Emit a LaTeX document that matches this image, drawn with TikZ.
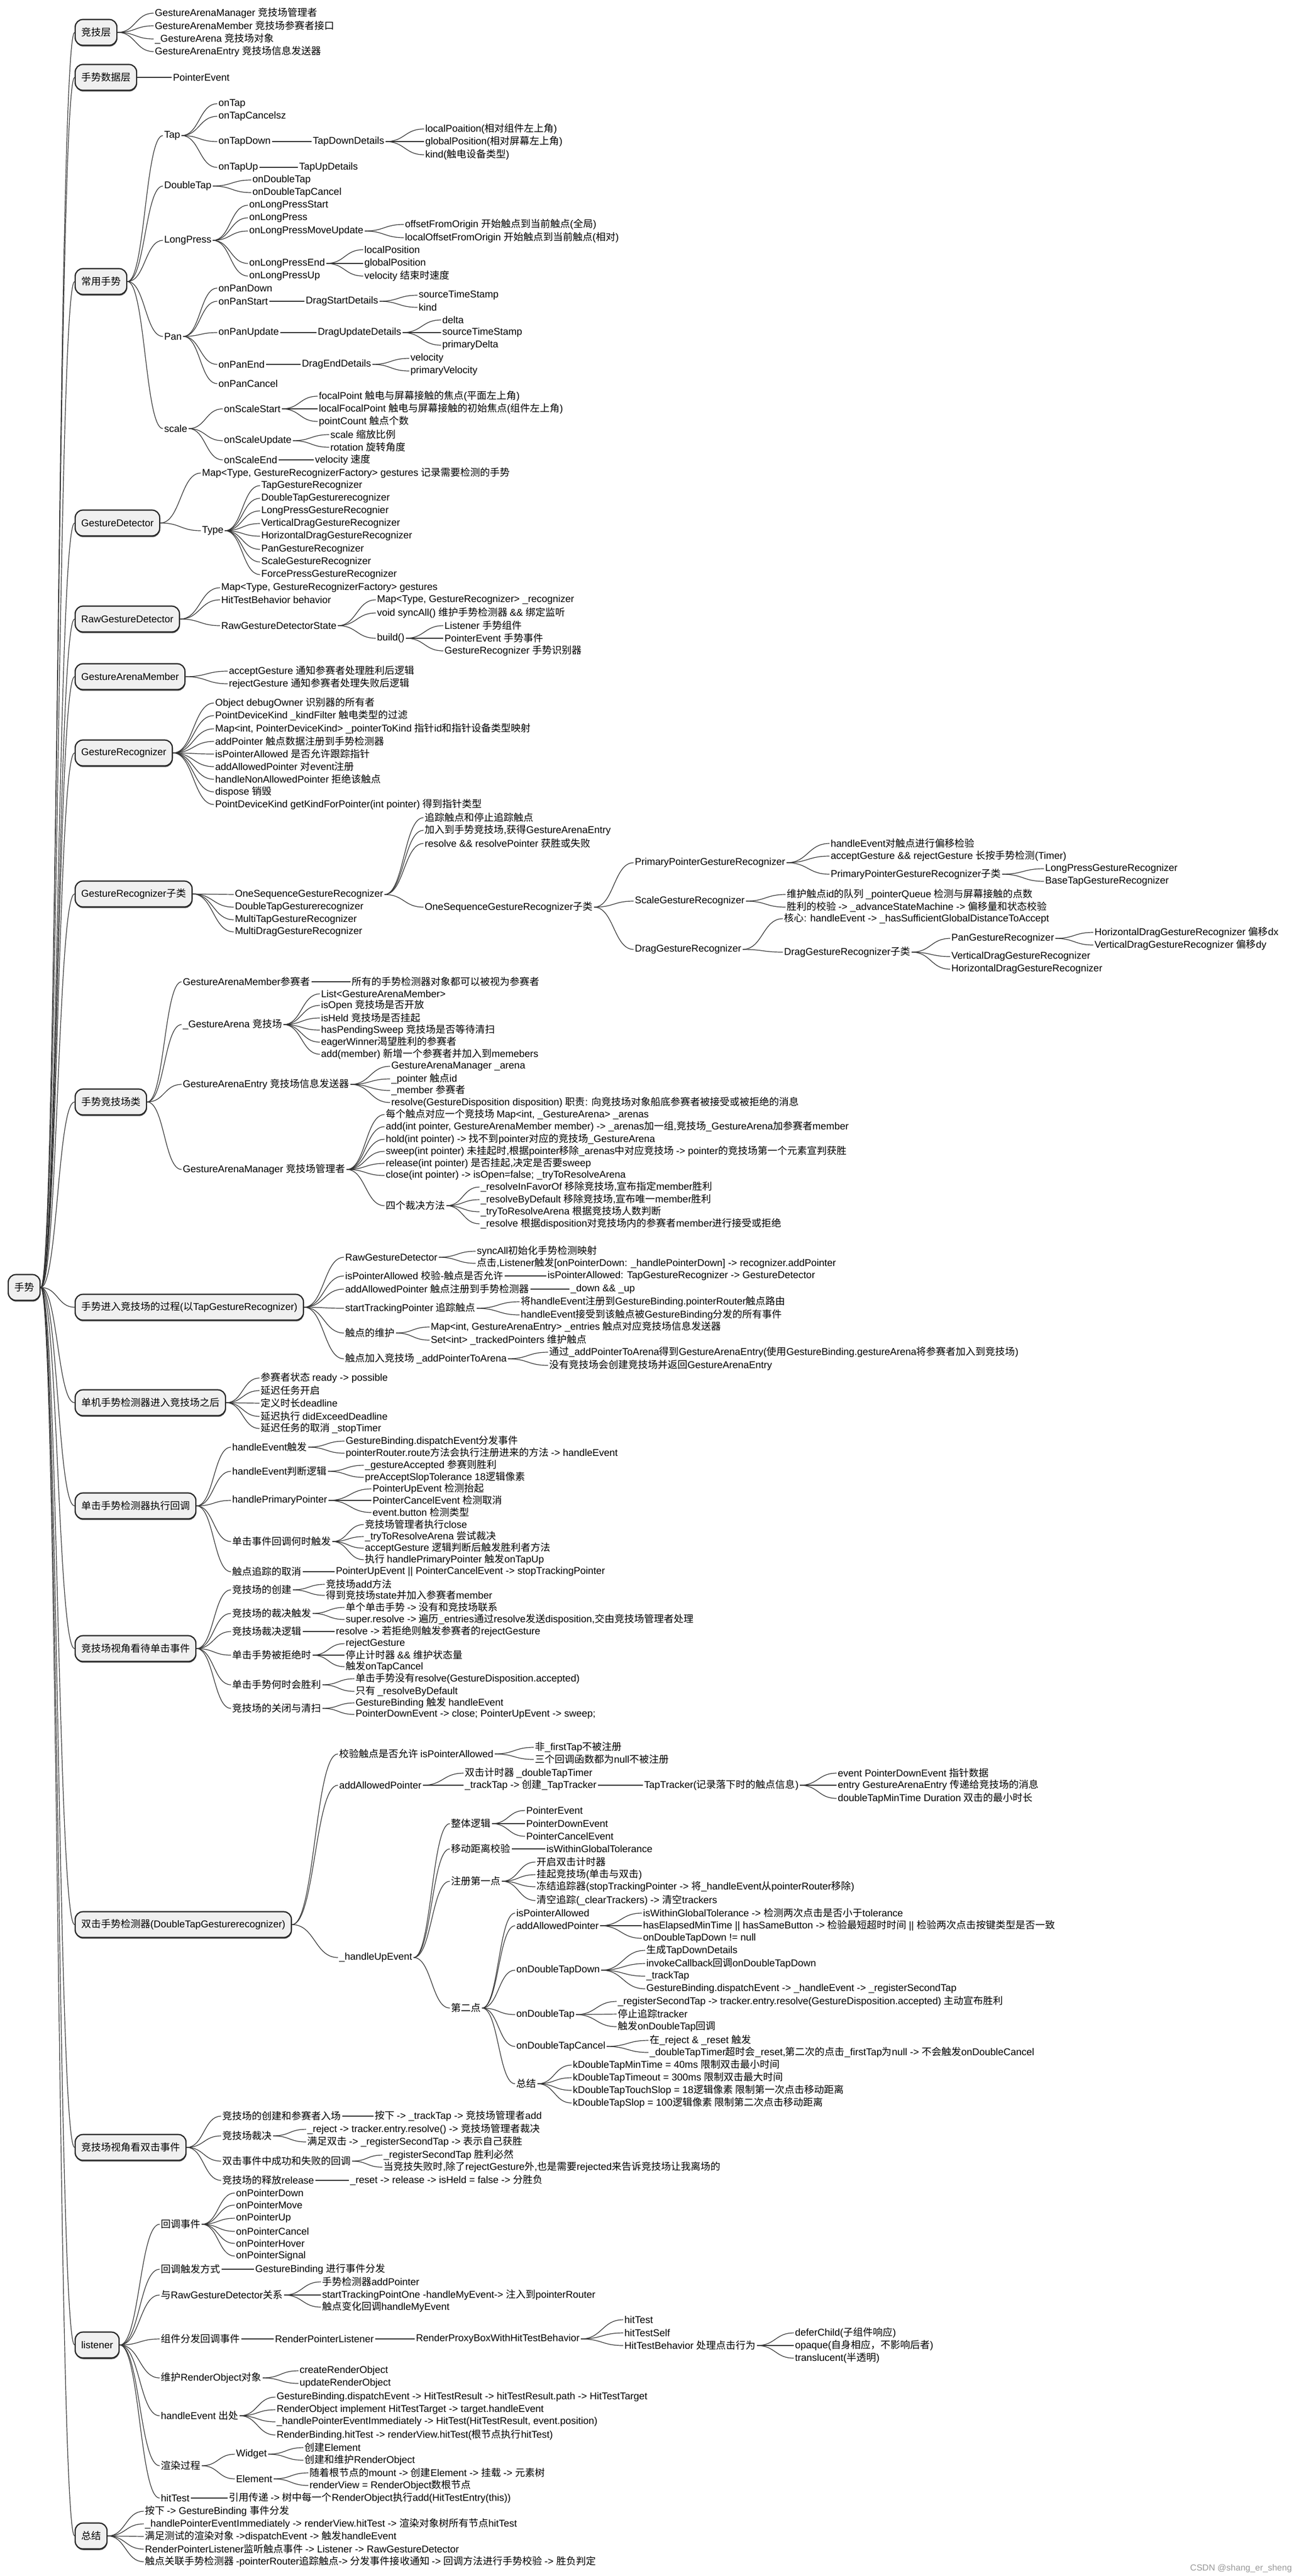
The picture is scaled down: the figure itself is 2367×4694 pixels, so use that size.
\documentclass[tikz,border=0pt]{standalone}
\usepackage{fontspec}
\setmainfont{Liberation Sans}
\newfontfamily\cjkf{Noto Sans CJK SC}
\newfontfamily\latf{Liberation Sans}
\usetikzlibrary{calc,shadows}
\newcount\cjkcnt
\cjkcnt="2E80
\loop\ifnum\cjkcnt<"A000 \XeTeXcharclass\cjkcnt=7 \advance\cjkcnt by 1 \repeat
\cjkcnt="FF00
\loop\ifnum\cjkcnt<"FFF0 \XeTeXcharclass\cjkcnt=7 \advance\cjkcnt by 1 \repeat
\XeTeXinterchartoks 0 7 = {\cjkf}
\XeTeXinterchartoks 4095 7 = {\cjkf}
\XeTeXinterchartoks 7 0 = {\latf}
\XeTeXinterchartoks 4095 0 = {\latf}
\XeTeXinterchartokenstate=1
\newcommand\fs{\fontsize{9pt}{11pt}\selectfont}
\tikzset{
  txt/.style={anchor=west, inner xsep=1pt, inner ysep=1pt, font=\cjkf\fs},
  box/.style={anchor=west, draw=black!85, line width=1.1pt, fill=black!6, rounded corners=7pt,
     minimum height=23.5pt, inner xsep=5.5pt, font=\cjkf\fs,
     drop shadow={shadow xshift=0.3pt, shadow yshift=-1.1pt, opacity=0.85, fill=black!80}},
  con/.style={draw=black!80, line width=0.6pt},
}
\newcommand\nd[4]{\node[txt] (#1) at (#2,#3) {#4};}
\newcommand\bx[4]{\node[box] (#1) at (#2,#3) {#4};}
\newcommand\E[2]{\foreach \cc in {#2}{\draw[con] let \p1=(#1.east), \p2=(\cc.west), \p3=($(\p1)!0.5!(\p2)$) in (\p1) .. controls (\x3,\y1) and (\x3,\y2) .. (\p2);}}
\begin{document}
\begin{tikzpicture}[x=0.5pt,y=-0.5pt]
\fill[white] (0,0) rectangle (2367,4694);
\useasboundingbox (0,0) rectangle (2367,4694);
% ---------- level 1
\bx{root}{14}{2346}{手势}
\bx{b1}{136}{59}{竞技层}
\bx{b2}{136}{141}{手势数据层}
\bx{b3}{136}{513}{常用手势}
\bx{b4}{136}{953}{GestureDetector}
\bx{b5}{136}{1128}{RawGestureDetector}
\bx{b6}{136}{1233}{GestureArenaMember}
\bx{b7}{136}{1372}{GestureRecognizer}
\bx{b8}{136}{1629}{GestureRecognizer子类}
\bx{b9}{136}{2008}{手势竞技场类}
\bx{b10}{136}{2382}{手势进入竞技场的过程(以TapGestureRecognizer)}
\bx{b11}{136}{2556}{单机手势检测器进入竞技场之后}
\bx{b12}{136}{2744}{单击手势检测器执行回调}
\bx{b13}{136}{3004}{竞技场视角看待单击事件}
\bx{b14}{136}{3507}{双击手势检测器(DoubleTapGesturerecognizer)}
\bx{b15}{136}{3913}{竞技场视角看双击事件}
\bx{b16}{136}{4273}{listener}
\bx{b17}{136}{4621}{总结}
\E{root}{b1,b2,b3,b4,b5,b6,b7,b8,b9,b10,b11,b12,b13,b14,b15,b16,b17}
% ---------- 竞技层
\nd{a1}{280}{24}{GestureArenaManager 竞技场管理者}
\nd{a2}{280}{47}{GestureArenaMember 竞技场参赛者接口}
\nd{a3}{280}{71}{\_GestureArena 竞技场对象}
\nd{a4}{280}{94}{GestureArenaEntry 竞技场信息发送器}
\E{b1}{a1,a2,a3,a4}
\nd{c1}{313}{141}{PointerEvent}
\E{b2}{c1}
% ---------- 常用手势
\nd{tap}{297}{247}{Tap}
\nd{dtap}{297}{339}{DoubleTap}
\nd{lp}{297}{438}{LongPress}
\nd{pan}{297}{613}{Pan}
\nd{scl}{297}{781}{scale}
\E{b3}{tap,dtap,lp,pan,scl}
\nd{t1}{396}{189}{onTap}
\nd{t2}{396}{212}{onTapCancelsz}
\nd{t3}{396}{258}{onTapDown}
\nd{t4}{396}{305}{onTapUp}
\E{tap}{t1,t2,t3,t4}
\nd{t3a}{568}{258}{TapDownDetails}
\E{t3}{t3a}
\nd{t3a1}{773}{235}{localPoaition(相对组件左上角)}
\nd{t3a2}{773}{258}{globalPosition(相对屏幕左上角)}
\nd{t3a3}{773}{282}{kind(触电设备类型)}
\E{t3a}{t3a1,t3a2,t3a3}
\nd{t4a}{543}{305}{TapUpDetails}
\E{t4}{t4a}
\nd{d1}{458}{328}{onDoubleTap}
\nd{d2}{458}{351}{onDoubleTapCancel}
\E{dtap}{d1,d2}
\nd{l1}{452}{374}{onLongPressStart}
\nd{l2}{452}{397}{onLongPress}
\nd{l3}{452}{421}{onLongPressMoveUpdate}
\nd{l4}{452}{480}{onLongPressEnd}
\nd{l5}{452}{503}{onLongPressUp}
\E{lp}{l1,l2,l3,l4,l5}
\nd{l3a}{736}{409}{offsetFromOrigin 开始触点到当前触点(全局)}
\nd{l3b}{736}{433}{localOffsetFromOrigin 开始触点到当前触点(相对)}
\E{l3}{l3a,l3b}
\nd{l4a}{662}{455}{localPosition}
\nd{l4b}{662}{480}{globalPosition}
\nd{l4c}{662}{503}{velocity 结束时速度}
\E{l4}{l4a,l4b,l4c}
\nd{p1}{396}{525}{onPanDown}
\nd{p2}{396}{549}{onPanStart}
\nd{p3}{396}{606}{onPanUpdate}
\nd{p4}{396}{664}{onPanEnd}
\nd{p5}{396}{699}{onPanCancel}
\E{pan}{p1,p2,p3,p4,p5}
\nd{p2a}{555}{549}{DragStartDetails}
\E{p2}{p2a}
\nd{p2b}{761}{538}{sourceTimeStamp}
\nd{p2c}{761}{560}{kind}
\E{p2a}{p2b,p2c}
\nd{p3a}{577}{606}{DragUpdateDetails}
\E{p3}{p3a}
\nd{p3b}{804}{583}{delta}
\nd{p3c}{804}{606}{sourceTimeStamp}
\nd{p3d}{804}{629}{primaryDelta}
\E{p3a}{p3b,p3c,p3d}
\nd{p4a}{548}{664}{DragEndDetails}
\E{p4}{p4a}
\nd{p4b}{746}{653}{velocity}
\nd{p4c}{746}{676}{primaryVelocity}
\E{p4a}{p4b,p4c}
\nd{s1}{406}{745}{onScaleStart}
\nd{s2}{406}{803}{onScaleUpdate}
\nd{s3}{406}{838}{onScaleEnd}
\E{scl}{s1,s2,s3}
\nd{s1a}{579}{722}{focalPoint 触电与屏幕接触的焦点(平面左上角)}
\nd{s1b}{579}{745}{localFocalPoint 触电与屏幕接触的初始焦点(组件左上角)}
\nd{s1c}{579}{768}{pointCount 触点个数}
\E{s1}{s1a,s1b,s1c}
\nd{s2a}{600}{792}{scale 缩放比例}
\nd{s2b}{600}{815}{rotation 旋转角度}
\E{s2}{s2a,s2b}
\nd{s3a}{572}{838}{velocity 速度}
\E{s3}{s3a}
% ---------- GestureDetector
\nd{g1}{366}{862}{Map<Type, GestureRecognizerFactory> gestures 记录需要检测的手势}
\nd{g2}{366}{967}{Type}
\E{b4}{g1,g2}
\nd{g2a}{474}{885}{TapGestureRecognizer}
\nd{g2b}{474}{908}{DoubleTapGesturerecognizer}
\nd{g2c}{474}{931}{LongPressGestureRecognier}
\nd{g2d}{474}{954}{VerticalDragGestureRecognizer}
\nd{g2e}{474}{977}{HorizontalDragGestureRecognizer}
\nd{g2f}{474}{1001}{PanGestureRecognizer}
\nd{g2g}{474}{1024}{ScaleGestureRecognizer}
\nd{g2h}{474}{1047}{ForcePressGestureRecognizer}
\E{g2}{g2a,g2b,g2c,g2d,g2e,g2f,g2g,g2h}
% ---------- RawGestureDetector
\nd{r1}{401}{1071}{Map<Type, GestureRecognizerFactory> gestures}
\nd{r2}{401}{1093}{HitTestBehavior behavior}
\nd{r3}{401}{1140}{RawGestureDetectorState}
\E{b5}{r1,r2,r3}
\nd{r3a}{685}{1093}{Map<Type, GestureRecognizer> \_recognizer}
\nd{r3b}{685}{1117}{void syncAll() 维护手势检测器 \&\& 绑定监听}
\nd{r3c}{685}{1163}{build()}
\E{r3}{r3a,r3b,r3c}
\nd{r3c1}{808}{1140}{Listener 手势组件}
\nd{r3c2}{808}{1163}{PointerEvent 手势事件}
\nd{r3c3}{808}{1186}{GestureRecognizer 手势识别器}
\E{r3c}{r3c1,r3c2,r3c3}
% ---------- GestureArenaMember
\nd{m1}{415}{1223}{acceptGesture 通知参赛者处理胜利后逻辑}
\nd{m2}{415}{1246}{rejectGesture 通知参赛者处理失败后逻辑}
\E{b6}{m1,m2}
% ---------- GestureRecognizer
\nd{gr1}{390}{1281}{Object debugOwner 识别器的所有者}
\nd{gr2}{390}{1304}{PointDeviceKind \_kindFilter 触电类型的过滤}
\nd{gr3}{390}{1328}{Map<int, PointerDeviceKind> \_pointerToKind 指针id和指针设备类型映射}
\nd{gr4}{390}{1351}{addPointer 触点数据注册到手势检测器}
\nd{gr5}{390}{1374}{isPointerAllowed 是否允许跟踪指针}
\nd{gr6}{390}{1397}{addAllowedPointer 对event注册}
\nd{gr7}{390}{1420}{handleNonAllowedPointer 拒绝该触点}
\nd{gr8}{390}{1443}{dispose 销毁}
\nd{gr9}{390}{1466}{PointDeviceKind getKindForPointer(int pointer) 得到指针类型}
\E{b7}{gr1,gr2,gr3,gr4,gr5,gr6,gr7,gr8,gr9}
% ---------- GestureRecognizer子类
\nd{os}{426}{1630}{OneSequenceGestureRecognizer}
\nd{sc2}{426}{1653}{DoubleTapGesturerecognizer}
\nd{sc3}{426}{1676}{MultiTapGestureRecognizer}
\nd{sc4}{426}{1698}{MultiDragGestureRecognizer}
\E{b8}{os,sc2,sc3,sc4}
\nd{os1}{772}{1490}{追踪触点和停止追踪触点}
\nd{os2}{772}{1513}{加入到手势竞技场,获得GestureArenaEntry}
\nd{os3}{772}{1537}{resolve \&\& resolvePointer 获胜或失败}
\nd{oss}{772}{1653}{OneSequenceGestureRecognizer子类}
\E{os}{os1,os2,os3,oss}
\nd{pp}{1155}{1572}{PrimaryPointerGestureRecognizer}
\nd{sg}{1155}{1642}{ScaleGestureRecognizer}
\nd{dg}{1155}{1730}{DragGestureRecognizer}
\E{oss}{pp,sg,dg}
\nd{pp1}{1512}{1537}{handleEvent对触点进行偏移检验}
\nd{pp2}{1512}{1560}{acceptGesture \&\& rejectGesture 长按手势检测(Timer)}
\nd{pps}{1512}{1593}{PrimaryPointerGestureRecognizer子类}
\E{pp}{pp1,pp2,pps}
\nd{pps1}{1903}{1583}{LongPressGestureRecognizer}
\nd{pps2}{1903}{1606}{BaseTapGestureRecognizer}
\E{pps}{pps1,pps2}
\nd{sg1}{1432}{1630}{维护触点id的队列 \_pointerQueue 检测与屏幕接触的点数}
\nd{sg2}{1432}{1653}{胜利的校验 -> \_advanceStateMachine -> 偏移量和状态校验}
\E{sg}{sg1,sg2}
\nd{dg1}{1427}{1674}{核心: handleEvent -> \_hasSufficientGlobalDistanceToAccept}
\nd{dgs}{1427}{1735}{DragGestureRecognizer子类}
\E{dg}{dg1,dgs}
\nd{dgs1}{1732}{1710}{PanGestureRecognizer}
\nd{dgs2}{1732}{1743}{VerticalDragGestureRecognizer}
\nd{dgs3}{1732}{1766}{HorizontalDragGestureRecognizer}
\E{dgs}{dgs1,dgs2,dgs3}
\nd{dgs1a}{1993}{1699}{HorizontalDragGestureRecognizer 偏移dx}
\nd{dgs1b}{1993}{1722}{VerticalDragGestureRecognizer 偏移dy}
\E{dgs1}{dgs1a,dgs1b}
% ---------- 手势竞技场类
\nd{ga1}{331}{1789}{GestureArenaMember参赛者}
\nd{ga2}{331}{1867}{\_GestureArena 竞技场}
\nd{ga3}{331}{1976}{GestureArenaEntry 竞技场信息发送器}
\nd{ga4}{331}{2131}{GestureArenaManager 竞技场管理者}
\E{b9}{ga1,ga2,ga3,ga4}
\nd{ga1a}{639}{1789}{所有的手势检测器对象都可以被视为参赛者}
\E{ga1}{ga1a}
\nd{ga2a}{583}{1811}{List<GestureArenaMember>}
\nd{ga2b}{583}{1832}{isOpen 竞技场是否开放}
\nd{ga2c}{583}{1855}{isHeld 竞技场是否挂起}
\nd{ga2d}{583}{1877}{hasPendingSweep 竞技场是否等待清扫}
\nd{ga2e}{583}{1899}{eagerWinner渴望胜利的参赛者}
\nd{ga2f}{583}{1921}{add(member) 新增一个参赛者并加入到memebers}
\E{ga2}{ga2a,ga2b,ga2c,ga2d,ga2e,ga2f}
\nd{ga3a}{711}{1943}{GestureArenaManager \_arena}
\nd{ga3b}{711}{1966}{\_pointer 触点id}
\nd{ga3c}{711}{1987}{\_member 参赛者}
\nd{ga3d}{711}{2009}{resolve(GestureDisposition disposition) 职责: 向竞技场对象船底参赛者被接受或被拒绝的消息}
\E{ga3}{ga3a,ga3b,ga3c,ga3d}
\nd{ga4a}{701}{2031}{每个触点对应一个竞技场 Map<int, \_GestureArena> \_arenas}
\nd{ga4b}{701}{2053}{add(int pointer, GestureArenaMember member) -> \_arenas加一组,竞技场\_GestureArena加参赛者member}
\nd{ga4c}{701}{2076}{hold(int pointer) -> 找不到pointer对应的竞技场\_GestureArena}
\nd{ga4d}{701}{2098}{sweep(int pointer) 未挂起时,根据pointer移除\_arenas中对应竞技场 -> pointer的竞技场第一个元素宣判获胜}
\nd{ga4e}{701}{2120}{release(int pointer) 是否挂起,决定是否要sweep}
\nd{ga4f}{701}{2142}{close(int pointer) -> isOpen=false; \_tryToResolveArena}
\nd{ga4g}{701}{2197}{四个裁决方法}
\E{ga4}{ga4a,ga4b,ga4c,ga4d,ga4e,ga4f,ga4g}
\nd{ga4g1}{874}{2163}{\_resolveInFavorOf 移除竞技场,宣布指定member胜利}
\nd{ga4g2}{874}{2186}{\_resolveByDefault 移除竞技场,宣布唯一member胜利}
\nd{ga4g3}{874}{2208}{\_tryToResolveArena 根据竞技场人数判断}
\nd{ga4g4}{874}{2230}{\_resolve 根据disposition对竞技场内的参赛者member进行接受或拒绝}
\E{ga4g}{ga4g1,ga4g2,ga4g3,ga4g4}
% ---------- 手势进入竞技场的过程
\nd{e1}{627}{2291}{RawGestureDetector}
\nd{e2}{627}{2325}{isPointerAllowed 校验-触点是否允许}
\nd{e3}{627}{2349}{addAllowedPointer 触点注册到手势检测器}
\nd{e4}{627}{2384}{startTrackingPointer 追踪触点}
\nd{e5}{627}{2429}{触点的维护}
\nd{e6}{627}{2476}{触点加入竞技场 \_addPointerToArena}
\E{b10}{e1,e2,e3,e4,e5,e6}
\nd{e1a}{867}{2280}{syncAll初始化手势检测映射}
\nd{e1b}{867}{2302}{点击,Listener触发[onPointerDown: \_handlePointerDown] -> recognizer.addPointer}
\E{e1}{e1a,e1b}
\nd{e2a}{996}{2325}{isPointerAllowed: TapGestureRecognizer -> GestureDetector}
\E{e2}{e2a}
\nd{e3a}{1038}{2349}{\_down \&\& \_up}
\E{e3}{e3a}
\nd{e4a}{947}{2372}{将handleEvent注册到GestureBinding.pointerRouter触点路由}
\nd{e4b}{947}{2396}{handleEvent接受到该触点被GestureBinding分发的所有事件}
\E{e4}{e4a,e4b}
\nd{e5a}{783}{2418}{Map<int, GestureArenaEntry> \_entries 触点对应竞技场信息发送器}
\nd{e5b}{783}{2442}{Set<int> \_trackedPointers 维护触点}
\E{e5}{e5a,e5b}
\nd{e6a}{999}{2464}{通过\_addPointerToArena得到GestureArenaEntry(使用GestureBinding.gestureArena将参赛者加入到竞技场)}
\nd{e6b}{999}{2488}{没有竞技场会创建竞技场并返回GestureArenaEntry}
\E{e6}{e6a,e6b}
% ---------- 单机手势检测器进入竞技场之后
\nd{f1}{473}{2511}{参赛者状态 ready -> possible}
\nd{f2}{473}{2534}{延迟任务开启}
\nd{f3}{473}{2557}{定义时长deadline}
\nd{f4}{473}{2581}{延迟执行 didExceedDeadline}
\nd{f5}{473}{2603}{延迟任务的取消 \_stopTimer}
\E{b11}{f1,f2,f3,f4,f5}
% ---------- 单击手势检测器执行回调
\nd{h1}{421}{2637}{handleEvent触发}
\nd{h2}{421}{2681}{handleEvent判断逻辑}
\nd{h3}{421}{2734}{handlePrimaryPointer}
\nd{h4}{421}{2809}{单击事件回调何时触发}
\nd{h5}{421}{2864}{触点追踪的取消}
\E{b12}{h1,h2,h3,h4,h5}
\nd{h1a}{628}{2626}{GestureBinding.dispatchEvent分发事件}
\nd{h1b}{628}{2648}{pointerRouter.route方法会执行注册进来的方法 -> handleEvent}
\E{h1}{h1a,h1b}
\nd{h2a}{663}{2670}{\_gestureAccepted 参赛则胜利}
\nd{h2b}{663}{2692}{preAcceptSlopTolerance 18逻辑像素}
\E{h2}{h2a,h2b}
\nd{h3a}{677}{2713}{PointerUpEvent 检测抬起}
\nd{h3b}{677}{2734}{PointerCancelEvent 检测取消}
\nd{h3c}{677}{2756}{event.button 检测类型}
\E{h3}{h3a,h3b,h3c}
\nd{h4a}{663}{2778}{竞技场管理者执行close}
\nd{h4b}{663}{2800}{\_tryToResolveArena 尝试裁决}
\nd{h4c}{663}{2821}{acceptGesture 逻辑判断后触发胜利者方法}
\nd{h4d}{663}{2842}{执行 handlePrimaryPointer 触发onTapUp}
\E{h4}{h4a,h4b,h4c,h4d}
\nd{h5a}{610}{2864}{PointerUpEvent || PointerCancelEvent -> stopTrackingPointer}
\E{h5}{h5a}
% ---------- 竞技场视角看待单击事件
\nd{k1}{421}{2897}{竞技场的创建}
\nd{k2}{421}{2940}{竞技场的裁决触发}
\nd{k3}{421}{2973}{竞技场裁决逻辑}
\nd{k4}{421}{3016}{单击手势被拒绝时}
\nd{k5}{421}{3070}{单击手势何时会胜利}
\nd{k6}{421}{3113}{竞技场的关闭与清扫}
\E{b13}{k1,k2,k3,k4,k5,k6}
\nd{k1a}{592}{2887}{竞技场add方法}
\nd{k1b}{592}{2907}{得到竞技场state并加入参赛者member}
\E{k1}{k1a,k1b}
\nd{k2a}{628}{2929}{单个单击手势 -> 没有和竞技场联系}
\nd{k2b}{628}{2951}{super.resolve -> 遍历\_entries通过resolve发送disposition,交由竞技场管理者处理}
\E{k2}{k2a,k2b}
\nd{k3a}{610}{2973}{resolve -> 若拒绝则触发参赛者的rejectGesture}
\E{k3}{k3a}
\nd{k4a}{628}{2995}{rejectGesture}
\nd{k4b}{628}{3016}{停止计时器 \&\& 维护状态量}
\nd{k4c}{628}{3037}{触发onTapCancel}
\E{k4}{k4a,k4b,k4c}
\nd{k5a}{646}{3059}{单击手势没有resolve(GestureDisposition.accepted)}
\nd{k5b}{646}{3082}{只有 \_resolveByDefault}
\E{k5}{k5a,k5b}
\nd{k6a}{646}{3103}{GestureBinding 触发 handleEvent}
\nd{k6b}{646}{3124}{PointerDownEvent -> close; PointerUpEvent -> sweep;}
\E{k6}{k6a,k6b}
% ---------- 双击手势检测器
\nd{q1}{616}{3196}{校验触点是否允许 isPointerAllowed}
\nd{q2}{616}{3253}{addAllowedPointer}
\nd{q3}{616}{3567}{\_handleUpEvent}
\E{b14}{q1,q2,q3}
\nd{q1a}{973}{3184}{非\_firstTap不被注册}
\nd{q1b}{973}{3206}{三个回调函数都为null不被注册}
\E{q1}{q1a,q1b}
\nd{q2a}{845}{3231}{双击计时器 \_doubleTapTimer}
\nd{q2b}{845}{3253}{\_trackTap -> 创建\_TapTracker}
\E{q2}{q2a,q2b}
\nd{q2c}{1172}{3253}{TapTracker(记录落下时的触点信息)}
\E{q2b}{q2c}
\nd{q2c1}{1525}{3231}{event PointerDownEvent 指针数据}
\nd{q2c2}{1525}{3253}{entry GestureArenaEntry 传递给竞技场的消息}
\nd{q2c3}{1525}{3277}{doubleTapMinTime Duration 双击的最小时长}
\E{q2c}{q2c1,q2c2,q2c3}
\nd{w1}{820}{3323}{整体逻辑}
\nd{w2}{820}{3369}{移动距离校验}
\nd{w3}{820}{3428}{注册第一点}
\nd{w4}{820}{3659}{第二点}
\E{q3}{w1,w2,w3,w4}
\nd{w1a}{957}{3299}{PointerEvent}
\nd{w1b}{957}{3323}{PointerDownEvent}
\nd{w1c}{957}{3346}{PointerCancelEvent}
\E{w1}{w1a,w1b,w1c}
\nd{w2a}{994}{3369}{isWithinGlobalTolerance}
\E{w2}{w2a}
\nd{w3a}{976}{3393}{开启双击计时器}
\nd{w3b}{976}{3416}{挂起竞技场(单击与双击)}
\nd{w3c}{976}{3438}{冻结追踪器(stopTrackingPointer -> 将\_handleEvent从pointerRouter移除)}
\nd{w3d}{976}{3463}{清空追踪(\_clearTrackers) -> 清空trackers}
\E{w3}{w3a,w3b,w3c,w3d}
\nd{v1}{939}{3486}{isPointerAllowed}
\nd{v2}{939}{3509}{addAllowedPointer}
\nd{v3}{939}{3590}{onDoubleTapDown}
\nd{v4}{939}{3671}{onDoubleTap}
\nd{v5}{939}{3729}{onDoubleTapCancel}
\nd{v6}{939}{3797}{总结}
\E{w4}{v1,v2,v3,v4,v5,v6}
\nd{v2a}{1170}{3486}{isWithinGlobalTolerance -> 检测两次点击是否小于tolerance}
\nd{v2b}{1170}{3509}{hasElapsedMinTime || hasSameButton -> 检验最短超时时间 || 检验两次点击按键类型是否一致}
\nd{v2c}{1170}{3532}{onDoubleTapDown != null}
\E{v2}{v2a,v2b,v2c}
\nd{v3a}{1176}{3554}{生成TapDownDetails}
\nd{v3b}{1176}{3578}{invokeCallback回调onDoubleTapDown}
\nd{v3c}{1176}{3601}{\_trackTap}
\nd{v3d}{1176}{3624}{GestureBinding.dispatchEvent -> \_handleEvent -> \_registerSecondTap}
\E{v3}{v3a,v3b,v3c,v3d}
\nd{v4a}{1124}{3647}{\_registerSecondTap -> tracker.entry.resolve(GestureDisposition.accepted) 主动宣布胜利}
\nd{v4b}{1124}{3670}{停止追踪tracker}
\nd{v4c}{1124}{3693}{触发onDoubleTap回调}
\E{v4}{v4a,v4b,v4c}
\nd{v5a}{1182}{3718}{在\_reject \& \_reset 触发}
\nd{v5b}{1182}{3740}{\_doubleTapTimer超时会\_reset,第二次的点击\_firstTap为null -> 不会触发onDoubleCancel}
\E{v5}{v5a,v5b}
\nd{v6a}{1042}{3763}{kDoubleTapMinTime = 40ms 限制双击最小时间}
\nd{v6b}{1042}{3786}{kDoubleTapTimeout = 300ms 限制双击最大时间}
\nd{v6c}{1042}{3809}{kDoubleTapTouchSlop = 18逻辑像素 限制第一次点击移动距离}
\nd{v6d}{1042}{3832}{kDoubleTapSlop = 100逻辑像素 限制第二次点击移动距离}
\E{v6}{v6a,v6b,v6c,v6d}
% ---------- 竞技场视角看双击事件
\nd{z1}{403}{3856}{竞技场的创建和参赛者入场}
\nd{z2}{403}{3892}{竞技场裁决}
\nd{z3}{403}{3938}{双击事件中成功和失败的回调}
\nd{z4}{403}{3973}{竞技场的释放release}
\E{b15}{z1,z2,z3,z4}
\nd{z1a}{681}{3856}{按下 -> \_trackTap -> 竞技场管理者add}
\E{z1}{z1a}
\nd{z2a}{558}{3880}{\_reject -> tracker.entry.resolve() -> 竞技场管理者裁决}
\nd{z2b}{558}{3903}{满足双击 -> \_registerSecondTap -> 表示自己获胜}
\E{z2}{z2a,z2b}
\nd{z3a}{697}{3927}{\_registerSecondTap 胜利必然}
\nd{z3b}{697}{3949}{当竞技失败时,除了rejectGesture外,也是需要rejected来告诉竞技场让我离场的}
\E{z3}{z3a,z3b}
\nd{z4a}{636}{3973}{\_reset -> release -> isHeld = false -> 分胜负}
\E{z4}{z4a}
% ---------- listener
\nd{L1}{291}{4053}{回调事件}
\nd{L2}{291}{4135}{回调触发方式}
\nd{L3}{291}{4182}{与RawGestureDetector关系}
\nd{L4}{291}{4262}{组件分发回调事件}
\nd{L5}{291}{4333}{维护RenderObject对象}
\nd{L6}{291}{4402}{handleEvent 出处}
\nd{L7}{291}{4493}{渲染过程}
\nd{L8}{291}{4552}{hitTest}
\E{b16}{L1,L2,L3,L4,L5,L6,L7,L8}
\nd{L1a}{428}{3996}{onPointerDown}
\nd{L1b}{428}{4018}{onPointerMove}
\nd{L1c}{428}{4042}{onPointerUp}
\nd{L1d}{428}{4066}{onPointerCancel}
\nd{L1e}{428}{4088}{onPointerHover}
\nd{L1f}{428}{4111}{onPointerSignal}
\E{L1}{L1a,L1b,L1c,L1d,L1e,L1f}
\nd{L2a}{463}{4135}{GestureBinding 进行事件分发}
\E{L2}{L2a}
\nd{L3a}{585}{4158}{手势检测器addPointer}
\nd{L3b}{585}{4182}{startTrackingPointOne -handleMyEvent-> 注入到pointerRouter}
\nd{L3c}{585}{4204}{触点变化回调handleMyEvent}
\E{L3}{L3a,L3b,L3c}
\nd{L4a}{499}{4262}{RenderPointerListener}
\E{L4}{L4a}
\nd{L4b}{756}{4262}{RenderProxyBoxWithHitTestBehavior}
\E{L4a}{L4b}
\nd{L4b1}{1136}{4227}{hitTest}
\nd{L4b2}{1136}{4251}{hitTestSelf}
\nd{L4b3}{1136}{4274}{HitTestBehavior 处理点击行为}
\E{L4b}{L4b1,L4b2,L4b3}
\nd{L4c1}{1447}{4251}{deferChild(子组件响应)}
\nd{L4c2}{1447}{4274}{opaque(自身相应，不影响后者)}
\nd{L4c3}{1447}{4297}{translucent(半透明)}
\E{L4b3}{L4c1,L4c2,L4c3}
\nd{L5a}{544}{4320}{createRenderObject}
\nd{L5b}{544}{4343}{updateRenderObject}
\E{L5}{L5a,L5b}
\nd{L6a}{502}{4368}{GestureBinding.dispatchEvent -> HitTestResult -> hitTestResult.path -> HitTestTarget}
\nd{L6b}{502}{4391}{RenderObject implement HitTestTarget -> target.handleEvent}
\nd{L6c}{502}{4413}{\_handlePointerEventImmediately -> HitTest(HitTestResult, event.position)}
\nd{L6d}{502}{4437}{RenderBinding.hitTest -> renderView.hitTest(根节点执行hitTest)}
\E{L6}{L6a,L6b,L6c,L6d}
\nd{L7a}{428}{4472}{Widget}
\nd{L7b}{428}{4517}{Element}
\E{L7}{L7a,L7b}
\nd{L7a1}{553}{4460}{创建Element}
\nd{L7a2}{553}{4483}{创建和维护RenderObject}
\E{L7a}{L7a1,L7a2}
\nd{L7b1}{562}{4506}{随着根节点的mount -> 创建Element -> 挂载 -> 元素树}
\nd{L7b2}{562}{4529}{renderView = RenderObject数根节点}
\E{L7b}{L7b1,L7b2}
\nd{L8a}{415}{4552}{引用传递 -> 树中每一个RenderObject执行add(HitTestEntry(this))}
\E{L8}{L8a}
% ---------- 总结
\nd{y1}{262}{4576}{按下 -> GestureBinding 事件分发}
\nd{y2}{262}{4599}{\_handlePointerEventImmediately -> renderView.hitTest -> 渲染对象树所有节点hitTest}
\nd{y3}{262}{4622}{满足测试的渲染对象 ->dispatchEvent -> 触发handleEvent}
\nd{y4}{262}{4645}{RenderPointerListener监听触点事件 -> Listener -> RawGestureDetector}
\nd{y5}{262}{4668}{触点关联手势检测器 -pointerRouter追踪触点-> 分发事件接收通知 -> 回调方法进行手势校验 -> 胜负判定}
\E{b17}{y1,y2,y3,y4,y5}
% ---------- watermark
\node[anchor=east, font=\cjkf\fontsize{8pt}{10pt}\selectfont, text=black!40] (wm) at (2362,4680) {CSDN @shang\_er\_sheng};
\end{tikzpicture}
\end{document}
